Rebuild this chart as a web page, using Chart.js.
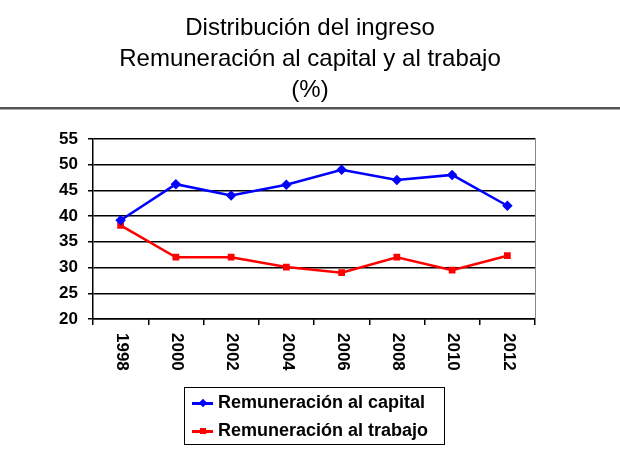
<!DOCTYPE html>
<html>
<head>
<meta charset="utf-8">
<script src="https://cdn.jsdelivr.net/npm/chart.js@4"></script>
<style>
  body { margin: 0; background: #fff; }
  #wrap { position: relative; width: 620px; height: 466px; }
  #legend {
    position: absolute; left: 184px; top: 387px; width: 259px; height: 56px;
    border: 1px solid #000; font: bold 18px "Liberation Sans", Arial, sans-serif; color: #000;
  }
  .item { height: 28px; line-height: 28px; padding-left: 7px; white-space: nowrap; }
  .mark { display: inline-block; position: relative; width: 21px; height: 3px; vertical-align: middle; margin-right: 5px; }
  .mark i { position: absolute; left: 8px; top: -2px; width: 6px; height: 6px; }
</style>
</head>
<body>
<div id="wrap">
  <canvas id="myChart" width="620" height="466"></canvas>
  <div id="legend"></div>
</div>
<script>
// LOS DATOS : -------------------------------------------------------

const years = ['1998', '2000', '2002', '2004', '2006', '2008', '2010', '2012'];
const capital = [39.2, 46.2, 44, 46.1, 49, 47, 48, 42];
const trabajo = [38.2, 32, 32, 30.1, 29, 32, 29.5, 32.3];
const yTicks = [20, 25, 30, 35, 40, 45, 50, 55];
const titleLines = ['Distribución del ingreso', 'Remuneración al capital y al trabajo', '(%)'];

const ctx = document.getElementById('myChart');
const font = '"Liberation Sans", Arial, sans-serif';

// raya gris bajo el titulo y etiquetas giradas del eje x
const extras = {
    id: 'extras',
    beforeDraw(chart) {
        const c = chart.ctx;
        c.save();
        c.fillStyle = '#fff';
        c.fillRect(0, 0, chart.width, chart.height);
        c.fillStyle = '#555';
        c.fillRect(0, 107, chart.width, 2);
        c.fillStyle = '#aaa';
        c.fillRect(0, 109, chart.width, 1);
        c.restore();
    },
    afterDraw(chart) {
        const c = chart.ctx;
        const area = chart.chartArea;
        const x = chart.scales.x;
        c.save();
        c.fillStyle = '#000';
        c.font = 'bold 17px ' + font;
        c.textAlign = 'left';
        c.textBaseline = 'middle';
        years.forEach((y, i) => {
            c.save();
            c.translate(x.getPixelForValue(i) + 1, area.bottom + 14);
            c.rotate(Math.PI / 2);
            c.fillText(y, 0, 0);
            c.restore();
        });
        c.restore();
    }
};

const myChart = new Chart(ctx, {
    type: 'line',
    data: {
        labels: years,
        datasets: [{
            label: 'Remuneración al capital',
            data: capital,
            borderColor: '#0000ff',
            backgroundColor: '#0000ff',
            borderWidth: 2.5,
            pointStyle: 'rectRot',
            pointRadius: 3.5,
            tension: 0
        }, {
            label: 'Remuneración al trabajo',
            data: trabajo,
            borderColor: '#ff0000',
            backgroundColor: '#ff0000',
            borderWidth: 2.5,
            pointStyle: 'rect',
            pointRadius: 3,
            tension: 0
        }]
    },
    options: {
        responsive: false,
        animation: false,
        layout: { padding: { left: 0, right: 0, bottom: 141 } },
        plugins: {
            legend: { display: false },
            tooltip: { enabled: false },
            title: {
                display: true,
                text: titleLines,
                color: '#000',
                font: { family: font, size: 24, weight: 'normal', lineHeight: 1.29 },
                padding: { top: 13, bottom: 33 }
            }
        },
        scales: {
            x: {
                offset: true,
                grid: { drawOnChartArea: false, drawTicks: true, tickLength: 6, offset: true, color: '#000', lineWidth: 1.5 },
                border: { color: '#000', width: 1.5 },
                ticks: { display: false }
            },
            y: {
                min: yTicks[0],
                max: yTicks[yTicks.length - 1],
                afterBuildTicks: (axis) => { axis.ticks = yTicks.map(v => ({ value: v })); },
                afterFit: (axis) => { axis.width = 93; },
                grid: { color: '#000', lineWidth: 1.5, tickLength: 5 },
                border: { color: '#000', width: 1.5 },
                ticks: { color: '#000', padding: 10, font: { family: font, size: 17, weight: 'bold' } }
            },
            // eje derecho vacio: solo el borde punteado
            y2: {
                position: 'right',
                min: yTicks[0],
                max: yTicks[yTicks.length - 1],
                afterFit: (axis) => { axis.width = 85; },
                grid: { drawOnChartArea: false, drawTicks: false },
                border: { color: '#888', width: 1, dash: [1, 2] },
                ticks: { display: false }
            }
        }
    },
    plugins: [extras]
});

// leyenda con recuadro, una serie por renglon
const legend = document.getElementById('legend');
myChart.data.datasets.forEach((ds) => {
    const row = document.createElement('div');
    row.className = 'item';
    const mark = document.createElement('span');
    mark.className = 'mark';
    mark.style.background = ds.borderColor;
    const dot = document.createElement('i');
    dot.style.background = ds.borderColor;
    if (ds.pointStyle === 'rectRot') dot.style.transform = 'rotate(45deg)';
    mark.appendChild(dot);
    row.appendChild(mark);
    row.appendChild(document.createTextNode(ds.label));
    legend.appendChild(row);
});
</script>
</body>
</html>
